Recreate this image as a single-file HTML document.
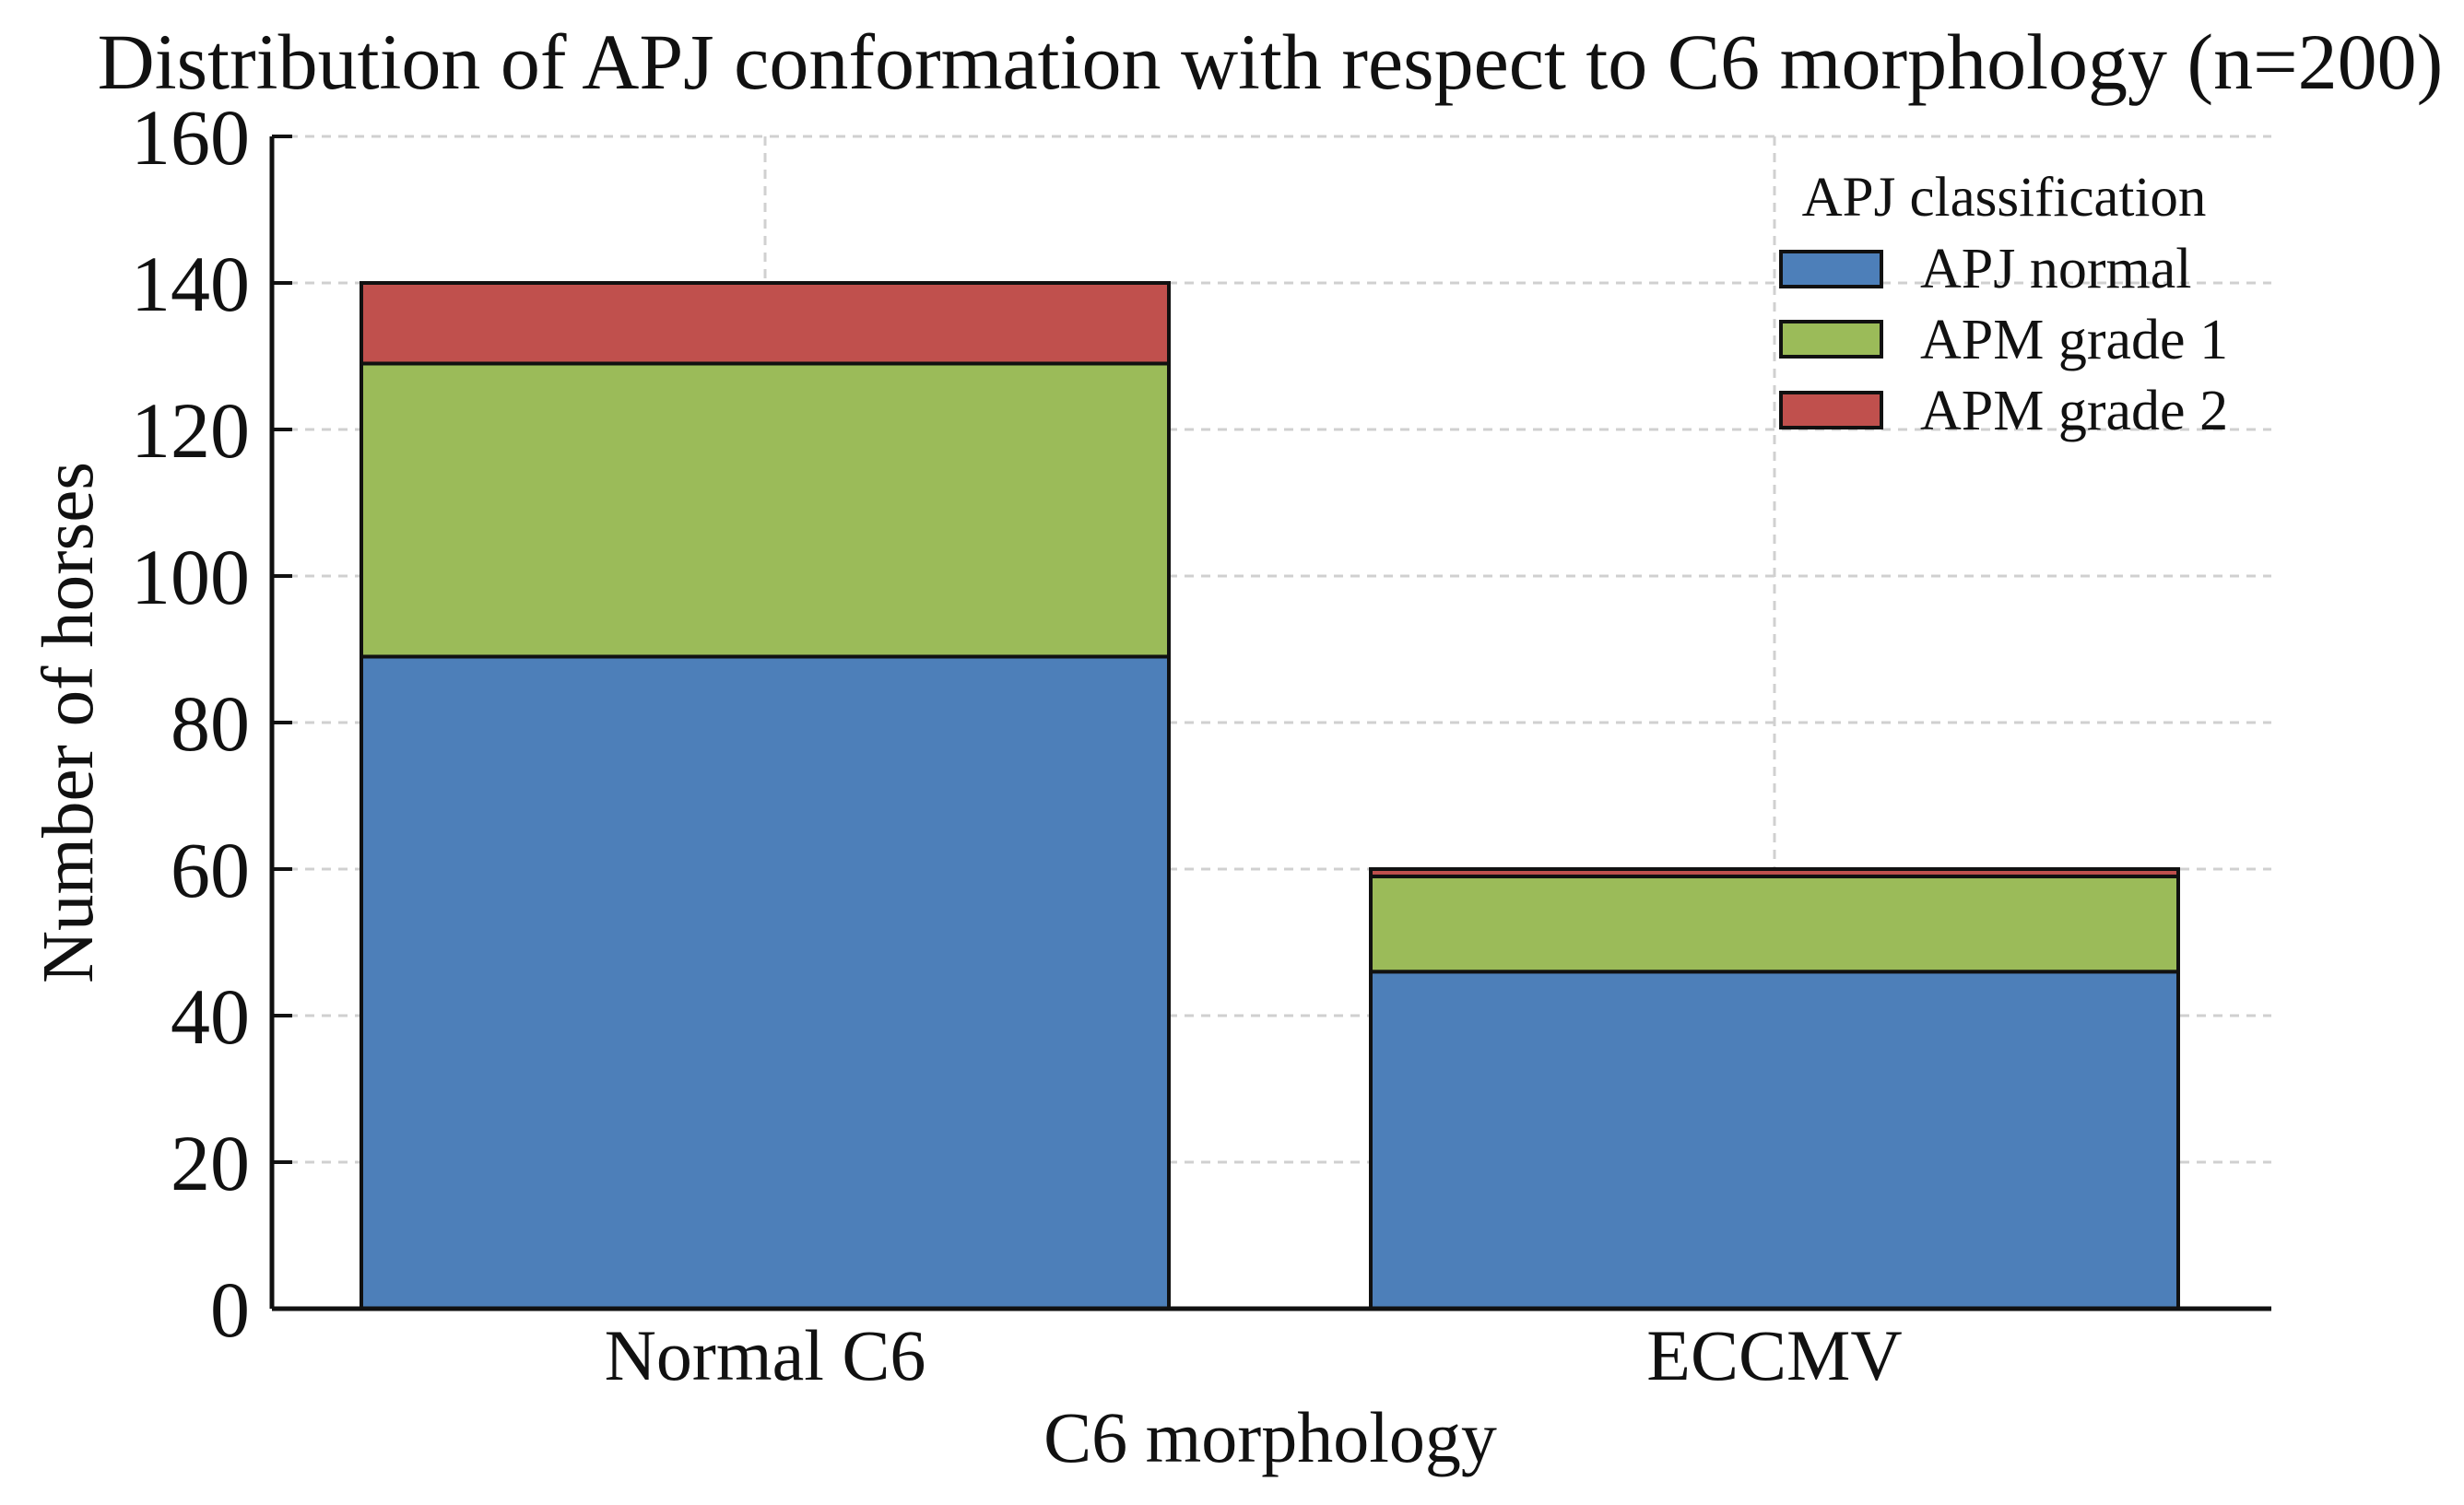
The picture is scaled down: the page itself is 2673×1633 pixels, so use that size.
<!DOCTYPE html>
<html><head><meta charset="utf-8"><style>
body{margin:0;background:#fff}
svg{display:block;font-family:"Liberation Serif",serif}
</style></head><body>
<svg id="chart" width="2673" height="1633" viewBox="0 0 2673 1633">
<text x="1378" y="96" font-size="86" text-anchor="middle" fill="#111">Distribution of APJ conformation with respect to C6 morphology (n=200)</text>
<g id="grid"></g>
<g id="bars"></g>
<g id="axes"></g>
<text transform="translate(100,784) rotate(-90)" font-size="79" text-anchor="middle" fill="#111">Number of horses</text>
<text x="1378" y="1586" font-size="78" text-anchor="middle" fill="#111">C6 morphology</text>
<g>
<text x="2174" y="234" font-size="61" text-anchor="middle" fill="#111">APJ classification</text>
<rect x="1932" y="273" width="109" height="38" fill="#4d7fb9" stroke="#111" stroke-width="4"/>
<text x="2083" y="312" font-size="62" fill="#111">APJ normal</text>
<rect x="1932" y="349" width="109" height="38" fill="#9bbb59" stroke="#111" stroke-width="4"/>
<text x="2083" y="389" font-size="62" fill="#111">APM grade 1</text>
<rect x="1932" y="426" width="109" height="38" fill="#c0504d" stroke="#111" stroke-width="4"/>
<text x="2083" y="466" font-size="62" fill="#111">APM grade 2</text>
</g>
</svg>
<script>
const categories = ["Normal C6", "ECCMV"];
const apjNormal = [89, 46];
const apmGrade1 = [40, 13];
const apmGrade2 = [11, 1];
const yTicks = [0, 20, 40, 60, 80, 100, 120, 140, 160];

const NS = "http://www.w3.org/2000/svg";
const X0 = 295, X1 = 2464, Y0 = 1420, Y1 = 148, YMAX = 160;
const yScale = v => Y0 - (v / YMAX) * (Y0 - Y1);
const xCenter = i => 830 + i * 1095;
const barW = 876;
function mk(tag, attrs, parent) {
  const e = document.createElementNS(NS, tag);
  for (const k in attrs) e.setAttribute(k, attrs[k]);
  parent.appendChild(e);
  return e;
}
const grid = document.getElementById('grid');
const bars = document.getElementById('bars');
const axes = document.getElementById('axes');

yTicks.forEach(t => {
  const y = yScale(t);
  if (t > 0) {
    const g = mk('line', {x1: X0, x2: X1, y1: y, y2: y, stroke: '#d0d0d0', 'stroke-width': 3, 'stroke-dasharray': '10 8'}, grid);
    
    
  }
  const tk = mk('line', {x1: X0, x2: X0 + 22, y1: y, y2: y, stroke: '#111', 'stroke-width': 4}, axes);
  
  
  const lb = mk('text', {x: X0 - 24, y: y + 30, 'font-size': 86, 'text-anchor': 'end', fill: '#111'}, axes);
  lb.textContent = t;
  
  
});
categories.forEach((c, i) => {
  const x = xCenter(i);
  const g = mk('line', {x1: x, x2: x, y1: Y1, y2: Y0, stroke: '#d0d0d0', 'stroke-width': 3, 'stroke-dasharray': '10 8'}, grid);
  
  
  const series = [[apjNormal, '#4d7fb9', 'apj-normal'], [apmGrade1, '#9bbb59', 'apm-grade-1'], [apmGrade2, '#c0504d', 'apm-grade-2']];
  let base = 0;
  series.forEach(([arr, col, nm]) => {
    const v = arr[i];
    const yTop = yScale(base + v), yBot = yScale(base);
    const r = mk('rect', {x: x - barW / 2, y: yTop, width: barW, height: Math.max(0, yBot - yTop), fill: col, stroke: '#111', 'stroke-width': 4}, bars);
    
    
    base += v;
  });
  const lb = mk('text', {x: x, y: 1497, 'font-size': 78, 'text-anchor': 'middle', fill: '#111'}, axes);
  lb.textContent = c;
  
  
});
const ya = mk('line', {x1: X0, x2: X0, y1: Y1, y2: Y0, stroke: '#111', 'stroke-width': 5}, axes);


const xa = mk('line', {x1: X0, x2: X1, y1: Y0, y2: Y0, stroke: '#111', 'stroke-width': 5}, axes);


</script>
</body></html>
